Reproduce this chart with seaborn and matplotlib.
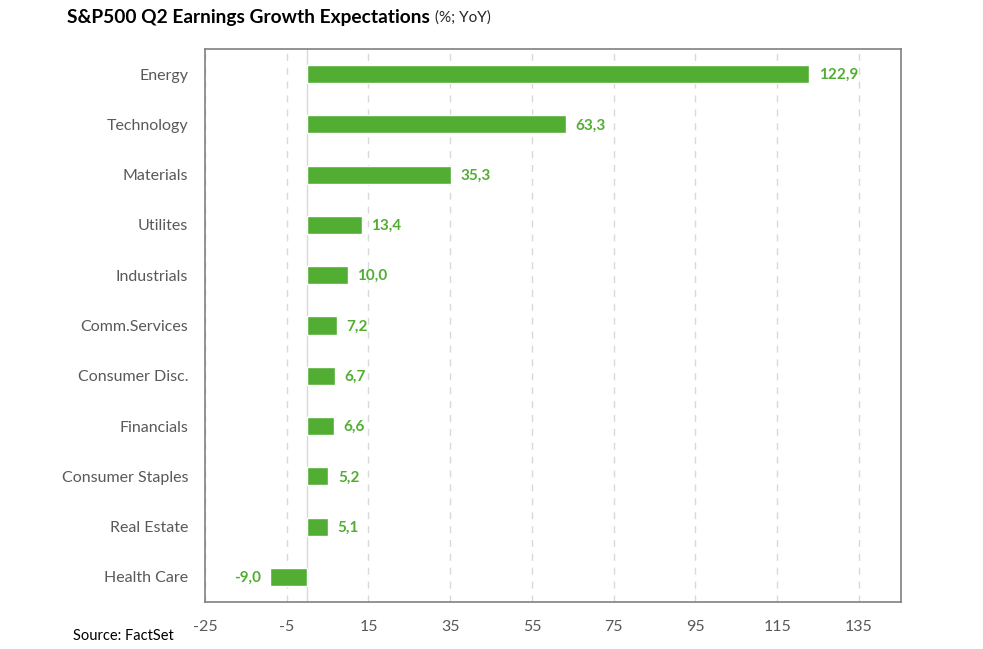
import pandas as pd
import numpy as np
import seaborn as sns
import matplotlib.pyplot as plt

sectors = ['Energy', 'Technology', 'Materials', 'Utilites', 'Industrials',
           'Comm.Services', 'Consumer Disc.', 'Financials', 'Consumer Staples',
           'Real Estate', 'Health Care']
growth = [122.9, 63.3, 35.3, 13.4, 10.0, 7.2, 6.7, 6.6, 5.2, 5.1, -9.0]
xticks = [-25, -5, 15, 35, 55, 75, 95, 115, 135]

green = '#52AE32'
grey = '#595959'

df = pd.DataFrame({'Sector': sectors, 'Growth': growth})

sns.set_style('white')
plt.rcParams['font.family'] = ['Lato', 'DejaVu Sans']

fig = plt.figure(figsize=(9.83, 6.49), dpi=100)
ax = fig.add_axes([205 / 983, 1 - 602 / 649, (901 - 205) / 983, (602 - 49) / 649])

sns.barplot(x='Growth', y='Sector', data=df, orient='h', color=green,
            width=0.36, saturation=1, ax=ax, zorder=3)

ax.set_xlim(-25, 145.3)
ax.set_xticks(xticks)
ax.set_xticklabels([str(t) for t in xticks])
ax.grid(axis='x', color='#D9D9D9', linestyle=(0, (5, 5)), linewidth=1, zorder=0)
ax.axvline(0, color='#D9D9D9', linewidth=1, zorder=1)
ax.tick_params(axis='both', length=0, labelsize=11.5, labelcolor=grey)
ax.tick_params(axis='x', pad=13)
ax.tick_params(axis='y', pad=12)
ax.set_xlabel('')
ax.set_ylabel('')
for sp in ax.spines.values():
    sp.set_color('#808080')
    sp.set_linewidth(1.2)

for i, v in enumerate(growth):
    txt = f'{v:.1f}'.replace('.', ',')
    if v >= 0:
        ax.text(v + 2.3, i + 0.02, txt, ha='left', va='center', color=green,
                fontsize=11, fontweight='bold')
    else:
        ax.text(v - 2.3, i + 0.02, txt, ha='right', va='center', color=green,
                fontsize=11, fontweight='bold')

fig.text(67 / 983, 1 - 17 / 649, 'S&P500 Q2 Earnings Growth Expectations',
         fontsize=13.8, fontweight='bold', color='black', va='center', ha='left')
fig.canvas.draw()
t = fig.texts[0]
bb = t.get_window_extent()
fig.text((bb.x1 + 5) / 983, 1 - 18 / 649, '(%; YoY)', fontsize=11,
         color='#262626', va='center', ha='left')
fig.text(73 / 983, 1 - 636 / 649, 'Source: FactSet', fontsize=10.5,
         color='black', va='center', ha='left')

fig.savefig('out.png', dpi=100)
